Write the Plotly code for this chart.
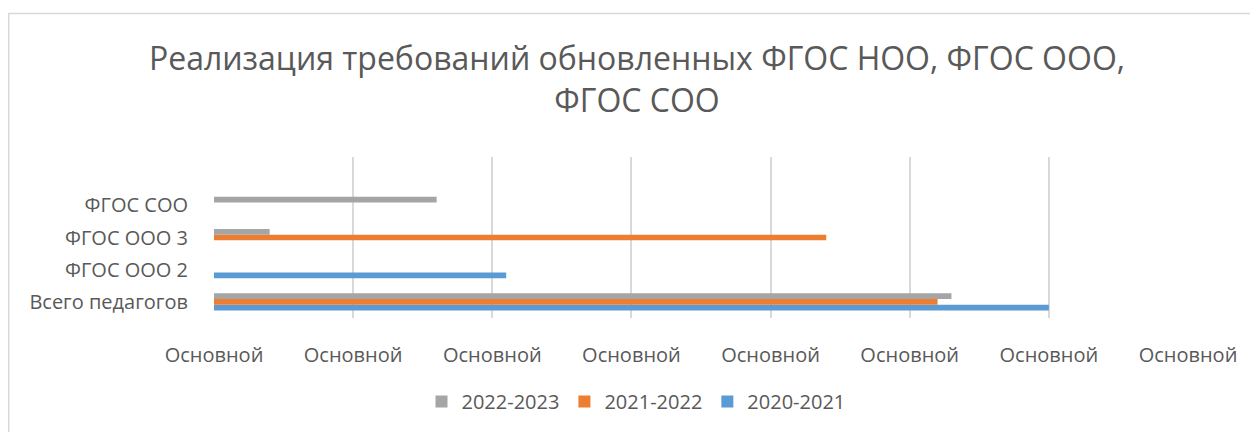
import plotly.graph_objects as go

categories = ["Всего педагогов", "ФГОС ООО 2", "ФГОС ООО 3", "ФГОС СОО"]
series_names = ["2020-2021", "2021-2022", "2022-2023"]
v_2020_2021 = [60, 21, None, None]
v_2021_2022 = [52, None, 44, None]
v_2022_2023 = [53, None, 4, 16]
colors = {"2020-2021": "#5b9bd5", "2021-2022": "#ed7d31", "2022-2023": "#a5a5a5"}
tick_vals = [0, 10, 20, 30, 40, 50, 60, 70]
tick_text = ["Основной"] * len(tick_vals)
title_text = "Реализация требований обновленных ФГОС НОО, ФГОС ООО,<br>ФГОС СОО"

# page has an 8px body margin; figure coordinates = page coordinates - 8
W, H = 1250, 424
L, R, T, B = 206, 70, 149, 114
pw, ph = W - L - R, H - T - B

fig = go.Figure()
for name, vals in zip(series_names, [v_2020_2021, v_2021_2022, v_2022_2023]):
    fig.add_trace(go.Bar(y=categories, x=vals, name=name, orientation="h",
                         marker=dict(color=colors[name], line=dict(width=0))))

def px2x(p):
    return (p - L) / pw

def py2y(p):
    return (H - B - p) / ph

shapes = [
    dict(type="line", xref="paper", yref="paper", x0=px2x(0), x1=px2x(W), y0=py2y(5.5), y1=py2y(5.5),
         line=dict(color="#d9d9d9", width=1.5)),
    dict(type="line", xref="paper", yref="paper", x0=px2x(0.75), x1=px2x(0.75), y0=py2y(5), y1=py2y(H),
         line=dict(color="#d9d9d9", width=1.5)),
]

fig.update_layout(
    width=W, height=H,
    margin=dict(l=L, r=R, t=T, b=B),
    paper_bgcolor="white", plot_bgcolor="white",
    barmode="group", bargap=0.47, bargroupgap=0,
    font=dict(family="Open Sans", color="#595959", size=20),
    title=dict(text=title_text, x=629 / W, xanchor="center", xref="container",
               y=1 - 62 / H, yanchor="top", yref="container",
               font=dict(size=32, color="#595959")),
    xaxis=dict(range=[0, 70], tickvals=tick_vals, ticktext=tick_text,
               showgrid=True, gridcolor="#d9d9d9", gridwidth=1.5,
               zeroline=False, showline=False,
               ticks="outside", ticklen=19, tickcolor="rgba(0,0,0,0)",
               tickfont=dict(size=20, color="#595959")),
    yaxis=dict(categoryorder="array", categoryarray=categories, range=[-0.5, 4.5],
               showgrid=False, zeroline=False, showline=False,
               ticks="outside", ticklen=21, tickcolor="rgba(0,0,0,0)",
               tickfont=dict(size=20, color="#595959")),
    legend=dict(orientation="h", traceorder="reversed", xref="container", yref="container",
                x=628 / W, xanchor="center", y=1 - 374 / H, yanchor="top",
                font=dict(size=20, color="#595959"), itemwidth=30),
    shapes=shapes,
)

fig.write_html("out.html")
